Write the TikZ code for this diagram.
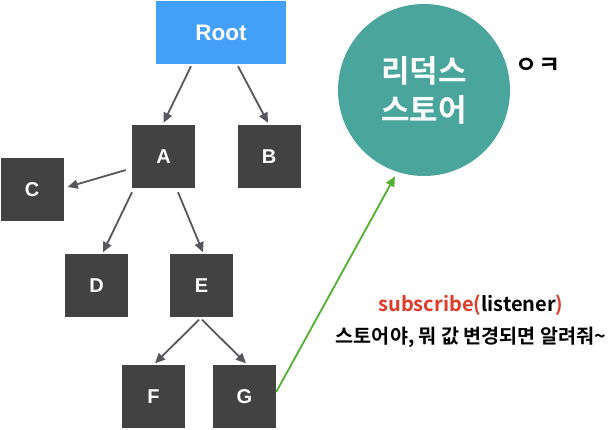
\documentclass[tikz,border=0pt]{standalone}
\usepackage{fontspec}
\setmainfont{Liberation Sans}
\newfontfamily\kr{Noto Sans CJK KR}[BoldFont={* Bold}]
\usetikzlibrary{arrows.meta}
\definecolor{rootblue}{HTML}{42A0F8}
\definecolor{boxgray}{HTML}{424242}
\definecolor{teal}{HTML}{4AA69C}
\definecolor{arrgray}{HTML}{55575C}
\definecolor{grn}{HTML}{52B030}
\definecolor{redtxt}{HTML}{E03A28}
\tikzset{
  box/.style={fill=boxgray, minimum width=63pt, minimum height=63pt, inner sep=0pt, text=white, font=\bfseries\fontsize{20}{20}\selectfont},
  rootbox/.style={fill=rootblue, minimum width=130pt, minimum height=63pt, inner sep=0pt, text=white, font=\bfseries\fontsize{22.5}{22.5}\selectfont},
  edge/.style={draw=arrgray, line width=1.8pt, -{Triangle[length=10pt,width=9pt]}},
  sub/.style={draw=grn, line width=1.8pt, -{Triangle[length=10pt,width=9pt]}},
}
\begin{document}
\begin{tikzpicture}[x=1pt,y=-1pt]
\useasboundingbox (0,0) rectangle (614,430);
\node[rootbox] (root) at (221,32.5) {Root};
\node[box] (A) at (163.5,156.5) {A};
\node[box] (B) at (269,156.5) {B};
\node[box] (C) at (32,190) {C};
\node[box] (D) at (96.5,286) {D};
\node[box] (E) at (201.5,286) {E};
\node[box] (F) at (153.5,397) {F};
\node[box] (G) at (244.5,397) {G};
\node[circle, fill=teal, minimum size=172pt, inner sep=0pt, text=white, align=center,
      font=\kr\bfseries\fontsize{31}{39}\selectfont] (circ) at (424,90) {리덕스\\스토어};
\node[font=\kr\bfseries\fontsize{24}{24}\selectfont] (ok) at (538,66) {ㅇㅋ};
\node[font=\kr\bfseries\fontsize{20}{20}\selectfont] (subs) at (471,305) {\textcolor{redtxt}{subscribe(}listener\textcolor{redtxt}{)}};
\node[font=\kr\bfseries\fontsize{19.6}{19.6}\selectfont] (msg) at (471,337) {스토어야, 뭐 값 변경되면 알려줘\char"007E};

\draw[edge] ([xshift=-30pt,yshift=-2pt]root.south) -- ([yshift=2pt]A.north);
\draw[edge] ([xshift=17pt,yshift=-2pt]root.south) -- ([xshift=-1pt,yshift=2pt]B.north);
\draw[edge] ([xshift=-6pt,yshift=-13.5pt]A.west) -- ([xshift=4pt,yshift=3pt]C.east);
\draw[edge] ([xshift=-31.5pt,yshift=-4pt]A.south) -- ([xshift=6.5pt,yshift=2pt]D.north);
\draw[edge] ([xshift=14.5pt,yshift=-4pt]A.south) -- ([xshift=1.5pt,yshift=2pt]E.north);
\draw[edge] ([xshift=-2.5pt,yshift=-2pt]E.south) -- ([xshift=1.5pt,yshift=2pt]F.north);
\draw[edge] ([xshift=0.5pt,yshift=-2pt]E.south) -- ([xshift=1.5pt,yshift=2pt]G.north);
\draw[sub, shorten >=5pt] ([yshift=5pt]G.east) -- (circ.252);
\end{tikzpicture}
\end{document}
